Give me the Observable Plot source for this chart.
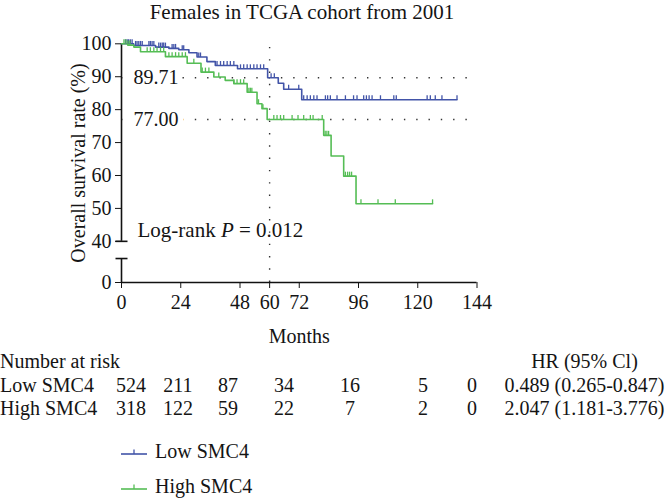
<!DOCTYPE html>
<html>
<head>
<meta charset="utf-8">
<script src="https://cdn.jsdelivr.net/npm/d3@7"></script>
<script src="https://cdn.jsdelivr.net/npm/@observablehq/plot@0.6"></script>
<style>
  html, body { margin: 0; padding: 0; background: #fff; }
  body { font-family: "Liberation Serif", "DejaVu Serif", serif; color: #141414; }
  #wrap { position: relative; width: 666px; height: 498px; overflow: hidden; }
  #title { height: 24px; width: 604px; text-align: center; font-size: 21px; line-height: 24px; }
  #chart svg { display: block; }
  #risk { position: absolute; left: 0; top: 350px; font-size: 20px; line-height: 23.5px; }
  .row { display: grid; grid-template-columns: 107.5px 47px 47px 53px 59px 73px 73px 25px 20px 160px; white-space: nowrap; }
  .row span { text-align: center; }
  .row span.lab { text-align: left; }
  #legend { position: absolute; left: 121px; top: 434px; font-size: 20px; }
  .leg { height: 35px; display: flex; align-items: center; }
  .leg svg { margin-right: 8px; }
</style>
</head>
<body>
<div id="wrap">
  <div id="title"></div>
  <div id="chart"></div>
  <div id="risk"></div>
  <div id="legend"></div>
</div>
<script>
// ---- data ----
const title = "Females in TCGA cohort from 2001";
const groups = ["Low SMC4", "High SMC4"];
const colors = ["#4254a8", "#55bd55"];

// Kaplan–Meier step curves (months, survival %)
const lowTime = [0, 4.9, 13.8, 19.2, 23.2, 27.3, 30.6, 34.6, 38.0, 47.0, 59.2, 63.5, 65.7, 73.0, 135.9];
const lowSurv = [100, 99.5, 99.0, 98.6, 98.2, 97.3, 96.0, 94.6, 93.4, 92.4, 89.71, 88.0, 86.2, 83.0, 83.0];
const highTime = [0, 2.5, 5.0, 7.7, 17.8, 26.6, 32.2, 37.4, 42.0, 45.5, 50.9, 54.9, 56.9, 59.0, 81.9, 84.9, 90.0, 95.0, 126.0];
const highSurv = [100, 99.6, 99.0, 97.6, 96.1, 94.1, 91.4, 89.9, 88.9, 87.9, 85.3, 81.8, 80.3, 77.0, 72.2, 65.9, 59.8, 51.4, 51.4];

// censoring times (months)
const lowCensor = [1.6, 2.3, 2.9, 3.6, 4.3, 5.7, 6.3, 7.0, 7.7, 8.4, 11.1, 11.7, 12.4, 13.1, 15.1, 15.8, 16.5, 17.1, 17.8, 20.5, 21.2, 21.9, 24.6, 25.2, 31.3, 32.0, 38.7, 40.1, 41.4, 42.8, 44.1, 45.5, 48.2, 49.5, 50.9, 52.2, 53.6, 54.9, 56.3, 57.6, 60.6, 61.9, 67.7, 71.8, 73.8, 75.2, 76.5, 77.9, 79.2, 82.6, 83.5, 84.6, 87.3, 90.7, 94.0, 95.4, 98.1, 99.2, 100.3, 101.5, 104.9, 110.3, 111.3, 123.8, 125.1, 127.1, 129.8, 135.9];
const highCensor = [1.0, 1.8, 2.6, 3.4, 10.4, 11.7, 13.1, 14.4, 15.8, 17.1, 19.2, 20.5, 21.9, 23.2, 24.6, 25.9, 29.3, 32.7, 34.0, 35.4, 39.4, 45.5, 46.8, 48.2, 49.5, 51.6, 52.2, 52.8, 55.5, 57.3, 61.7, 63.0, 64.4, 65.7, 69.1, 71.5, 73.8, 76.5, 77.6, 81.3, 82.5, 83.2, 83.9, 90.7, 91.6, 92.4, 93.2, 97.0, 103.9, 110.9, 126.0];

// landmark at 60 months
const landmark = 60;
const surv60 = [89.71, 77.00];
const logRank = "Log-rank P = 0.012";

// axes
const xTicks = [0, 24, 48, 60, 72, 96, 120, 144];
const yTicks = [0, 40, 50, 60, 70, 80, 90, 100];
const yBreak = [23.3, 40];   // axis break between these values
const xLabel = "Months";
const yLabel = "Overall survival rate (%)";

// risk table
const riskHeader = "Number at risk";
const riskLow = [524, 211, 87, 34, 16, 5, 0];
const riskHigh = [318, 122, 59, 22, 7, 2, 0];
const hrHeader = "HR (95% Cl)";
const hrValues = ["0.489 (0.265-0.847)", "2.047 (1.181-3.776)"];

// ---- build ----
document.getElementById("title").textContent = title;

function survAt(times, surv, t) {
  let v = surv[0];
  for (let i = 0; i < times.length; i++) if (times[i] <= t) v = surv[i];
  return v;
}
const curves = [];
[[lowTime, lowSurv], [highTime, highSurv]].forEach(([T, S], g) => {
  T.forEach((t, i) => curves.push({group: groups[g], t, s: S[i]}));
});
const censors = [];
[[lowCensor, lowTime, lowSurv], [highCensor, highTime, highSurv]].forEach(([C, T, S], g) => {
  C.forEach(t => censors.push({group: groups[g], t, s: survAt(T, S, t)}));
});
const refs = surv60.map((v, i) => ({v, label: v.toFixed(2), group: groups[i]}));

// broken y axis (piecewise linear): 0–40 compressed into 5 equal pieces, 40–100 in pieces of 2.5
const yKnots = [...d3.range(0, 40, 8), ...d3.range(40, 100.001, 2.5)];

const vTick = {draw(ctx, size) { const l = Math.sqrt(size / Math.PI); ctx.moveTo(0, 0); ctx.lineTo(0, -l); }};
const hCap = {draw(ctx, size) { const l = Math.sqrt(size / Math.PI); ctx.moveTo(-l, 0); ctx.lineTo(l, 0); }};

const font = '"Liberation Serif", "DejaVu Serif", serif';
const dots = "1.4 10.9";

const chart = Plot.plot({
  width: 666,
  height: 330,
  marginLeft: 121,
  marginRight: 189.5,
  marginTop: 19,
  marginBottom: 72,
  style: {fontFamily: font, fontSize: "20px", color: "#141414", background: "transparent", overflow: "visible"},
  x: {type: "linear", domain: [0, 144], range: [121, 476.5], ticks: xTicks, tickSize: 6, tickPadding: 6, label: null, line: false},
  y: {type: "linear", domain: yKnots, range: [258, 19.3], ticks: yTicks, tickSize: 6, tickPadding: 4, label: null, line: false},
  color: {domain: groups, range: colors},
  marks: [
    // dotted reference lines
    Plot.ruleY(refs, {y: "v", x1: 0, x2: 144, stroke: "#333", strokeWidth: 1.4, strokeDasharray: dots}),
    Plot.ruleX([landmark], {y1: 0, y2: 100, stroke: "#333", strokeWidth: 1.4, strokeDasharray: dots}),
    // axis lines with break
    Plot.ruleX([0], {y1: yBreak[1], y2: 100, stroke: "#111", strokeWidth: 1.6}),
    Plot.ruleX([0], {y1: 0, y2: yBreak[0], stroke: "#111", strokeWidth: 1.6}),
    Plot.ruleY([0], {x1: 0, x2: 144, stroke: "#111", strokeWidth: 1.6}),
    Plot.dot(yBreak, {x: () => 0, y: d => d, symbol: hCap, r: 6, fill: "none", stroke: "#111", strokeWidth: 1.6}),
    // KM curves
    Plot.line(curves, {x: "t", y: "s", z: "group", stroke: "group", curve: "step-after", strokeWidth: 1.6}),
    Plot.dot(censors, {x: "t", y: "s", stroke: "group", symbol: vTick, r: 4.5, fill: "none", strokeWidth: 1.3}),
    // labels
    Plot.text(refs, {x: () => 0, y: "v", text: "label", dx: 12, textAnchor: "start", fill: "#141414", stroke: "white", strokeWidth: 12, paintOrder: "stroke", fontSize: 20}),
    Plot.text([logRank], {frameAnchor: "bottom-left", text: d => d, dx: 16, dy: -46, textAnchor: "start", fill: "#141414", fontSize: 21}),
    Plot.text([xLabel], {frameAnchor: "bottom", text: d => d, dy: 60, fill: "#141414", fontSize: 20}),
    Plot.text([yLabel], {frameAnchor: "left", text: d => d, dx: -43, rotate: -90, textAnchor: "middle", fill: "#141414", fontSize: 20})
  ]
});
document.getElementById("chart").appendChild(chart);

// italic P in the log-rank label
chart.querySelectorAll("text").forEach(el => {
  if (el.textContent === logRank && el.children.length === 0) {
    const parts = logRank.split(" P ");
    el.textContent = "";
    const ns = "http://www.w3.org/2000/svg";
    const a = document.createElementNS(ns, "tspan"); a.textContent = parts[0] + " ";
    const b = document.createElementNS(ns, "tspan"); b.textContent = "P"; b.setAttribute("font-style", "italic");
    const c = document.createElementNS(ns, "tspan"); c.textContent = " " + parts[1];
    el.append(a, b, c);
  }
});

// risk table
const risk = document.getElementById("risk");
function row(cells) {
  const r = document.createElement("div");
  r.className = "row";
  cells.forEach((c, i) => {
    const s = document.createElement("span");
    s.textContent = c;
    if (i === 0) s.className = "lab";
    r.appendChild(s);
  });
  return r;
}
risk.appendChild(row([riskHeader, "", "", "", "", "", "", "", "", hrHeader]));
risk.appendChild(row([groups[0], ...riskLow, "", hrValues[0]]));
risk.appendChild(row([groups[1], ...riskHigh, "", hrValues[1]]));

// legend
const legend = document.getElementById("legend");
groups.forEach((g, i) => {
  const d = document.createElement("div");
  d.className = "leg";
  d.innerHTML = `<svg width="26" height="12"><line x1="0" y1="8" x2="26" y2="8" stroke="${colors[i]}" stroke-width="1.6"/><line x1="13" y1="8" x2="13" y2="3.5" stroke="${colors[i]}" stroke-width="1.3"/></svg>`;
  const s = document.createElement("span");
  s.textContent = g;
  d.appendChild(s);
  legend.appendChild(d);
});
</script>
</body>
</html>
